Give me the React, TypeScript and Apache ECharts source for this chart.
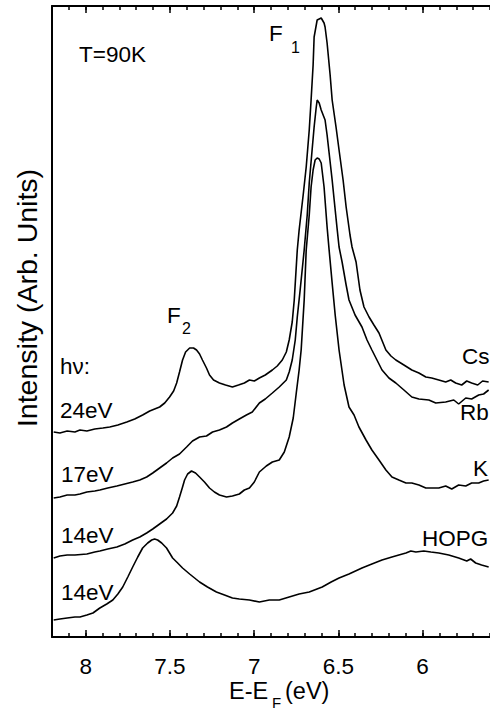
import React, { useEffect, useRef } from "react";
import * as echarts from "echarts";

// Photon-emission spectra, x = E - E_F (eV), y = intensity (arb. units)
const csSpectrum: [number, number][] = [
  [8.19, 205], [8.153, 204], [8.11, 206], [8.064, 205], [8.034, 207], [7.993, 206], [7.946, 208],
  [7.898, 209], [7.857, 210], [7.809, 212], [7.756, 215], [7.709, 218], [7.662, 222], [7.62, 226],
  [7.561, 230], [7.531, 234], [7.502, 240], [7.478, 246], [7.46, 254], [7.443, 265], [7.425, 277],
  [7.407, 285], [7.383, 289], [7.36, 289], [7.342, 287], [7.324, 283], [7.307, 277], [7.283, 269],
  [7.265, 262], [7.241, 257], [7.206, 254], [7.17, 252], [7.129, 250], [7.093, 252], [7.058, 254],
  [7.028, 257], [6.999, 256], [6.969, 259], [6.934, 262], [6.892, 267], [6.863, 271], [6.833, 277],
  [6.809, 285], [6.792, 297], [6.774, 315], [6.762, 337], [6.744, 387], [6.733, 407], [6.709, 442],
  [6.691, 470], [6.673, 507], [6.662, 537], [6.65, 572], [6.644, 600], [6.626, 617], [6.602, 619],
  [6.585, 614], [6.579, 610], [6.567, 594], [6.549, 562], [6.537, 537], [6.514, 510], [6.496, 487],
  [6.472, 457], [6.454, 430], [6.431, 402], [6.419, 390], [6.395, 375], [6.372, 347], [6.348, 330],
  [6.318, 320], [6.289, 312], [6.259, 304], [6.218, 287], [6.188, 281], [6.159, 277], [6.111, 272],
  [6.064, 267], [6.022, 264], [5.981, 260], [5.946, 259], [5.904, 257], [5.863, 255], [5.833, 257],
  [5.804, 254], [5.768, 252], [5.738, 256], [5.709, 254], [5.673, 252], [5.644, 256], [5.608, 255],
];

const rbSpectrum: [number, number][] = [
  [8.19, 139], [8.153, 140], [8.11, 142], [8.064, 142], [8.034, 143], [7.993, 145], [7.946, 146],
  [7.916, 147], [7.869, 149], [7.815, 151], [7.768, 153], [7.721, 155], [7.679, 157], [7.638, 160],
  [7.602, 164], [7.561, 169], [7.52, 174], [7.484, 179], [7.443, 183], [7.401, 190], [7.366, 196],
  [7.324, 200], [7.283, 201], [7.247, 205], [7.206, 207], [7.164, 210], [7.129, 214], [7.088, 218],
  [7.046, 222], [7.011, 225], [6.969, 234], [6.934, 238], [6.892, 244], [6.851, 250], [6.809, 257],
  [6.792, 265], [6.774, 277], [6.756, 297], [6.744, 320], [6.727, 347], [6.715, 367], [6.703, 387],
  [6.685, 422], [6.673, 454], [6.656, 487], [6.644, 510], [6.632, 529], [6.626, 537], [6.614, 534],
  [6.602, 527], [6.579, 517], [6.567, 502], [6.555, 484], [6.537, 457], [6.525, 437], [6.508, 409],
  [6.496, 390], [6.478, 375], [6.454, 352], [6.437, 337], [6.401, 322], [6.36, 310], [6.33, 297],
  [6.301, 287], [6.271, 277], [6.241, 267], [6.2, 259], [6.159, 254], [6.111, 247], [6.064, 240],
  [6.022, 238], [5.963, 237], [5.922, 234], [5.863, 235], [5.815, 237], [5.786, 233], [5.744, 239],
  [5.709, 238], [5.667, 242], [5.638, 243], [5.608, 247],
];

const kSpectrum: [number, number][] = [
  [8.19, 79], [8.153, 81], [8.11, 82], [8.064, 82], [7.993, 83], [7.946, 85], [7.916, 86],
  [7.869, 88], [7.815, 90], [7.768, 93], [7.721, 97], [7.679, 100], [7.638, 104], [7.602, 108],
  [7.561, 113], [7.52, 118], [7.484, 124], [7.46, 131], [7.443, 140], [7.425, 150], [7.413, 157],
  [7.395, 163], [7.372, 166], [7.348, 164], [7.324, 160], [7.295, 155], [7.265, 149], [7.236, 145],
  [7.206, 142], [7.164, 140], [7.129, 141], [7.088, 143], [7.058, 147], [7.028, 149], [6.999, 155],
  [6.969, 165], [6.928, 171], [6.892, 175], [6.851, 177], [6.821, 185], [6.792, 200], [6.768, 219],
  [6.75, 244], [6.733, 267], [6.721, 287], [6.703, 337], [6.691, 387], [6.673, 422], [6.662, 450],
  [6.65, 467], [6.638, 477], [6.626, 479], [6.614, 478], [6.602, 474], [6.585, 450], [6.567, 410],
  [6.555, 387], [6.537, 354], [6.519, 322], [6.496, 287], [6.466, 252], [6.437, 230], [6.407, 222],
  [6.378, 210], [6.336, 197], [6.301, 187], [6.259, 177], [6.218, 167], [6.182, 160], [6.141, 157],
  [6.099, 154], [6.064, 154], [6.022, 152], [5.981, 149], [5.946, 149], [5.904, 149], [5.863, 151],
  [5.827, 148], [5.786, 152], [5.744, 151], [5.709, 154], [5.667, 154], [5.638, 156], [5.608, 157],
];

const hopgSpectrum: [number, number][] = [
  [8.19, 17], [8.153, 18], [8.11, 19], [8.064, 20], [8.034, 20], [7.993, 22], [7.957, 24],
  [7.916, 29], [7.875, 33], [7.839, 37], [7.809, 43], [7.78, 50], [7.75, 60], [7.721, 70],
  [7.691, 80], [7.662, 89], [7.632, 94], [7.608, 97], [7.591, 98], [7.573, 97], [7.549, 94],
  [7.52, 89], [7.484, 79], [7.454, 74], [7.425, 69], [7.383, 63], [7.324, 55], [7.277, 50],
  [7.224, 45], [7.176, 42], [7.129, 39], [7.088, 38], [7.028, 37], [6.969, 35], [6.91, 37],
  [6.851, 37], [6.792, 40], [6.733, 43], [6.673, 45], [6.596, 50], [6.543, 55], [6.496, 59],
  [6.437, 63], [6.36, 69], [6.301, 73], [6.241, 77], [6.182, 80], [6.141, 82], [6.099, 84],
  [6.07, 86], [6.04, 85], [5.993, 86], [5.951, 85], [5.904, 84], [5.845, 82], [5.786, 79],
  [5.738, 76], [5.715, 78], [5.685, 74], [5.65, 72], [5.608, 70],
];

const majorTicks = [6, 6.5, 7, 7.5, 8];
const xMin = 5.6;
const xMax = 8.2;
const yMin = 0;
const yMax = 631;

const FONT = "'Liberation Sans', Arial, Helvetica, sans-serif";
const FS = 22.5;

export default function App() {
  const ref = useRef<HTMLDivElement>(null);

  useEffect(() => {
    if (!ref.current) return;
    const chart = echarts.init(ref.current, null, { renderer: "svg" });

    const txt = (text: string, x: number, y: number, size = FS, extra: any = {}) => ({
      type: "text",
      x,
      y,
      silent: true,
      ...extra,
      style: {
        text,
        fontSize: size,
        fontFamily: FONT,
        fill: "#000",
        align: "left",
        verticalAlign: "middle",
        textAlign: "left",
        textVerticalAlign: "middle",
        ...(extra.style || {}),
      },
    });

    const baseAxis = {
      type: "value",
      min: xMin,
      max: xMax,
      inverse: true,
      splitLine: { show: false },
    };

    const series = [csSpectrum, rbSpectrum, kSpectrum, hopgSpectrum].map((d, i) => ({
      type: "line",
      name: ["Cs", "Rb", "K", "HOPG"][i],
      data: d,
      xAxisIndex: 0,
      yAxisIndex: 0,
      showSymbol: false,
      symbol: "none",
      smooth: false,
      lineStyle: { color: "#000", width: 1.6 },
      silent: true,
    }));

    chart.setOption({
      animation: false,
      backgroundColor: "#fff",
      grid: { left: 52, top: 6, width: 439, height: 631, containLabel: false },
      xAxis: [
        {
          ...baseAxis,
          position: "bottom",
          axisLine: { show: true, lineStyle: { color: "#000", width: 2 } },
          axisTick: { show: true, inside: true, length: 7, lineStyle: { color: "#000", width: 1.5 }, customValues: majorTicks },
          axisLabel: {
            show: true,
            customValues: majorTicks,
            margin: 18,
            fontSize: FS,
            fontFamily: FONT,
            color: "#000",
            formatter: (v: number) => String(v),
          },
        },
        {
          ...baseAxis,
          position: "bottom",
          interval: 0.1,
          axisLine: { show: false },
          axisTick: { show: true, inside: true, length: 4, lineStyle: { color: "#000", width: 1.5 } },
          axisLabel: { show: false },
        },
        {
          ...baseAxis,
          position: "top",
          axisLine: { show: true, lineStyle: { color: "#000", width: 2 } },
          axisTick: { show: true, inside: true, length: 7, lineStyle: { color: "#000", width: 1.5 }, customValues: majorTicks },
          axisLabel: { show: false },
        },
        {
          ...baseAxis,
          position: "top",
          interval: 0.1,
          axisLine: { show: false },
          axisTick: { show: true, inside: true, length: 4, lineStyle: { color: "#000", width: 1.5 } },
          axisLabel: { show: false },
        },
      ],
      yAxis: {
        type: "value",
        min: yMin,
        max: yMax,
        axisLine: { show: true, lineStyle: { color: "#000", width: 2 } },
        axisTick: { show: false },
        axisLabel: { show: false },
        splitLine: { show: false },
      },
      series,
      graphic: [
        txt("T=90K", 79, 54),
        txt("F", 269, 33),
        txt("1", 291, 47, 16),
        txt("F", 167, 315),
        txt("2", 182, 328, 16),
        txt("hν:", 60, 366),
        txt("24eV", 60, 410),
        txt("17eV", 61, 474),
        txt("14eV", 61, 535),
        txt("14eV", 61, 592),
        txt("Cs", 462, 356),
        txt("Rb", 460, 412),
        txt("K", 473, 468),
        txt("HOPG", 422, 538),
        txt("E-E", 229, 691, 23.5),
        txt("F", 272, 702, 15),
        txt("(eV)", 285, 691, 23.5),
        txt("Intensity (Arb. Units)", 27, 298, 28.5, {
          rotation: Math.PI / 2,
          style: { align: "center", textAlign: "center" },
        }),
      ],
    });

    return () => chart.dispose();
  }, []);

  return (
    <div
      ref={ref}
      style={{ position: "fixed", left: 0, top: 0, width: 490, height: 710, background: "#fff" }}
    />
  );
}
